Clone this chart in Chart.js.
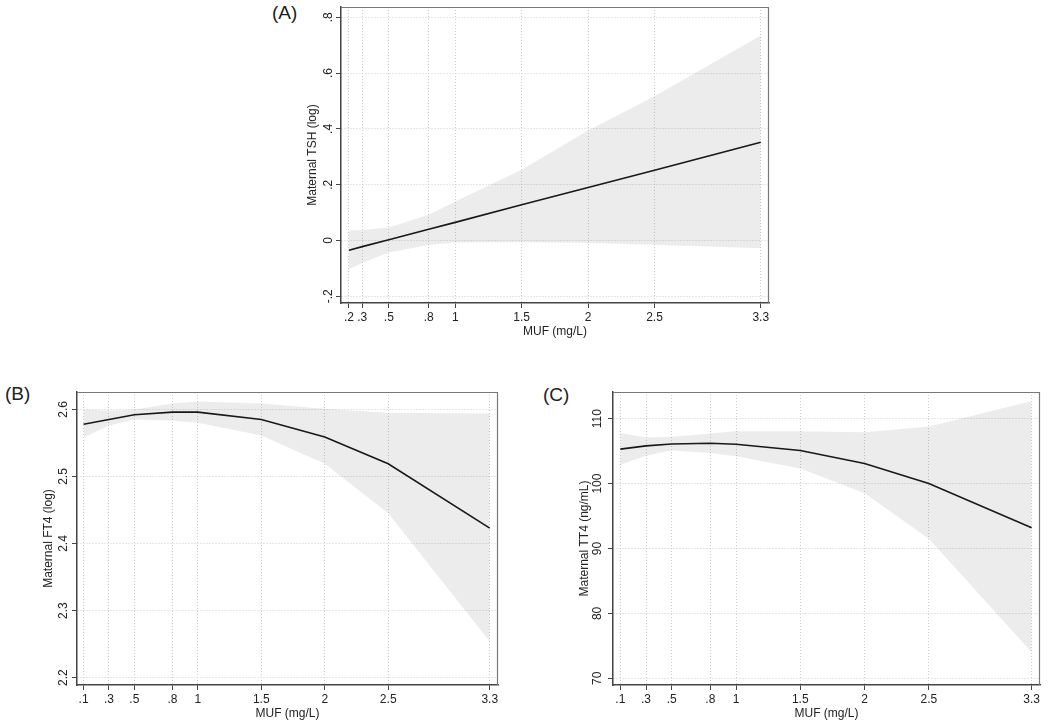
<!DOCTYPE html>
<html><head><meta charset="utf-8">
<script src="https://cdn.jsdelivr.net/npm/chart.js@4"></script>
<style>
body{margin:0;background:#fff;width:1050px;height:726px;position:relative;overflow:hidden;font-family:"Liberation Sans",Arial,sans-serif;}
canvas{position:absolute;}
.lbl{position:absolute;font-size:19px;line-height:19px;color:#222;z-index:2;}
</style></head><body>
<div class="lbl" style="left:272px;top:3px">(A)</div>
<div class="lbl" style="left:5px;top:384px">(B)</div>
<div class="lbl" style="left:543px;top:385px">(C)</div>
<canvas id="cA" width="478" height="346" style="left:301px;top:-3px"></canvas>
<canvas id="cB" width="471" height="343" style="left:37px;top:382px"></canvas>
<canvas id="cC" width="475" height="343" style="left:573px;top:382px"></canvas>
<script>
// ---- data ----
const mufA = [0.2, 0.3, 0.5, 0.8, 1, 1.5, 2, 2.5, 3.3];
const tshFit   = [-0.035, -0.022, 0.003, 0.040, 0.065, 0.128, 0.190, 0.252, 0.352];
const tshUpper = [0.036, 0.038, 0.047, 0.092, 0.140, 0.254, 0.394, 0.517, 0.735];
const tshLower = [-0.103, -0.081, -0.043, -0.016, -0.007, -0.006, -0.009, -0.015, -0.028];

const mufBC = [0.1, 0.3, 0.5, 0.8, 1, 1.5, 2, 2.5, 3.3];
const ft4Fit   = [2.578, 2.585, 2.592, 2.596, 2.596, 2.585, 2.559, 2.519, 2.423];
const ft4Upper = [2.600, 2.598, 2.600, 2.609, 2.612, 2.609, 2.601, 2.595, 2.594];
const ft4Lower = [2.558, 2.576, 2.585, 2.583, 2.580, 2.561, 2.519, 2.445, 2.254];

const tt4Fit   = [105.3, 105.8, 106.1, 106.2, 106.05, 105.1, 103.1, 100.0, 93.2];
const tt4Upper = [107.8, 107.1, 107.2, 107.7, 108.05, 108.05, 107.9, 108.8, 112.7];
const tt4Lower = [102.9, 104.3, 105.1, 104.7, 104.2, 102.3, 98.5, 91.5, 74.0];

// ---- tick labels ----
const xTicksA = [0.2, 0.3, 0.5, 0.8, 1, 1.5, 2, 2.5, 3.3];
const xTickLabelsA = ['.2', '.3', '.5', '.8', '1', '1.5', '2', '2.5', '3.3'];
const xTicksBC = [0.1, 0.3, 0.5, 0.8, 1, 1.5, 2, 2.5, 3.3];
const xTickLabelsBC = ['.1', '.3', '.5', '.8', '1', '1.5', '2', '2.5', '3.3'];
const yTicksA = [-0.2, 0, 0.2, 0.4, 0.6, 0.8];
const yTickLabelsA = ['-.2', '0', '.2', '.4', '.6', '.8'];
const yTicksB = [2.2, 2.3, 2.4, 2.5, 2.6];
const yTickLabelsB = ['2.2', '2.3', '2.4', '2.5', '2.6'];
const yTicksC = [70, 80, 90, 100, 110];
const yTickLabelsC = ['70', '80', '90', '100', '110'];

const FONT = {family: '"Liberation Sans", Arial, sans-serif', size: 12};
const TXT = '#222';

const framePlugin = {
  id: 'frame',
  afterDraw(chart) {
    const {ctx, chartArea: {left, right, top, bottom}} = chart;
    ctx.save();
    ctx.strokeStyle = '#7a7a7a';
    ctx.lineWidth = 1.2;
    ctx.beginPath();
    ctx.moveTo(left, top + 0.5);
    ctx.lineTo(right - 0.5, top + 0.5);
    ctx.lineTo(right - 0.5, bottom);
    ctx.stroke();
    ctx.restore();
  }
};

function pts(xs, ys) { return xs.map((x, i) => ({x: x, y: ys[i]})); }

function makeChart(id, xs, fit, upper, lower, xT, xL, yT, yL, xMin, xMax, yMin, yMax, yTitle, padRight) {
  new Chart(document.getElementById(id), {
    type: 'line',
    data: {
      datasets: [
        {data: pts(xs, lower), borderWidth: 0, borderColor: 'rgba(0,0,0,0)', pointRadius: 0, fill: false, tension: 0},
        {data: pts(xs, upper), borderWidth: 0, borderColor: 'rgba(0,0,0,0)', pointRadius: 0, fill: '-1',
         backgroundColor: 'rgba(0,0,0,0.075)', tension: 0},
        {data: pts(xs, fit), borderColor: '#1a1a1a', borderWidth: 1.6, pointRadius: 0, fill: false, tension: 0}
      ]
    },
    options: {
      responsive: false,
      animation: false,
      devicePixelRatio: 1,
      layout: {padding: {left: 0, right: padRight, top: 10, bottom: 0}},
      plugins: {legend: {display: false}, tooltip: {enabled: false}},
      scales: {
        x: {
          type: 'linear', min: xMin, max: xMax,
          afterBuildTicks: s => { s.ticks = xT.map(v => ({value: v})); },
          afterFit: s => { s.height = 40; },
          ticks: {autoSkip: false, maxRotation: 0, minRotation: 0, padding: 2, color: TXT, font: FONT,
                  callback: (v, i) => xL[i]},
          grid: {color: '#cfcfcf', lineWidth: 1, tickLength: 5, tickColor: '#444', tickWidth: 1},
          border: {display: true, color: '#444', width: 1.5, dash: [1, 2]},
          title: {display: true, text: 'MUF (mg/L)', color: TXT, font: FONT, padding: {top: 0, bottom: 4}}
        },
        y: {
          type: 'linear', min: yMin, max: yMax,
          afterBuildTicks: s => { s.ticks = yT.map(v => ({value: v})); },
          afterFit: s => { s.width = 40; },
          ticks: {autoSkip: false, minRotation: 90, maxRotation: 90, crossAlign: 'center', padding: 0,
                  color: TXT, font: FONT, callback: (v, i) => yL[i]},
          grid: {color: '#cfcfcf', lineWidth: 1, tickLength: 5, tickColor: '#444', tickWidth: 1},
          border: {display: true, color: '#444', width: 1.5, dash: [1, 2]},
          title: {display: true, text: yTitle, color: TXT, font: FONT, padding: {top: 4.5, bottom: 0}}
        }
      }
    },
    plugins: [framePlugin]
  });
}

makeChart('cA', mufA, tshFit, tshUpper, tshLower, xTicksA, xTickLabelsA, yTicksA, yTickLabelsA,
          0.14, 3.362, -0.224, 0.837, 'Maternal TSH (log)', 10);
makeChart('cB', mufBC, ft4Fit, ft4Upper, ft4Lower, xTicksBC, xTickLabelsBC, yTicksB, yTickLabelsB,
          0.048, 3.365, 2.189, 2.626, 'Maternal FT4 (log)', 10);
makeChart('cC', mufBC, tt4Fit, tt4Upper, tt4Lower, xTicksBC, xTickLabelsBC, yTicksC, yTickLabelsC,
          0.043, 3.365, 68.97, 114.1, 'Maternal TT4 (ng/mL)', 8);
</script>
</body></html>
